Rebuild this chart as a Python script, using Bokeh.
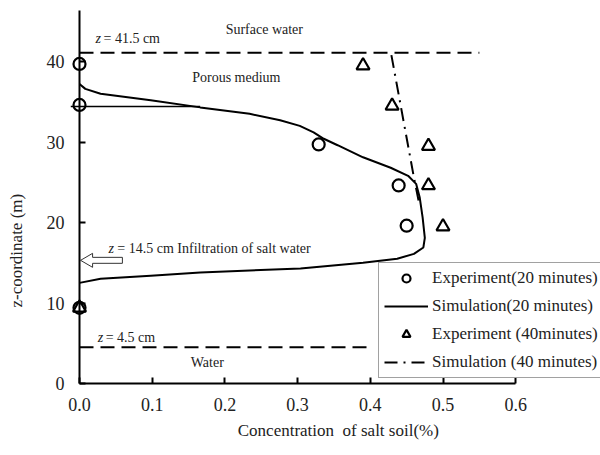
import math
from bokeh.plotting import figure
from bokeh.models import (Range1d, FixedTicker, Legend, LegendItem, Label,
                          NumeralTickFormatter)
from bokeh.embed import file_html
from bokeh.resources import INLINE

# ---------------- data ----------------
exp20_x = [0.0, 0.0, 0.329, 0.439, 0.450, 0.0]
exp20_z = [39.7, 34.6, 29.7, 24.6, 19.6, 9.4]

exp40_x = [0.39, 0.43, 0.48, 0.48, 0.50, 0.0]
exp40_z = [39.5, 34.5, 29.5, 24.6, 19.5, 9.4]

sim20_x = [0.0, 0.008, 0.029, 0.098, 0.166, 0.234, 0.276, 0.303, 0.322, 0.336,
           0.355, 0.39, 0.428, 0.452, 0.463, 0.468, 0.472, 0.475, 0.473, 0.46,
           0.437, 0.39, 0.304, 0.166, 0.098, 0.029, 0.0]
sim20_z = [37.2, 36.6, 36.0, 35.2, 34.3, 33.5, 32.7, 32.0, 31.2, 30.4,
           29.6, 28.1, 26.8, 25.8, 24.8, 23.1, 20.6, 18.1, 16.9, 16.1,
           15.5, 15.0, 14.3, 13.8, 13.4, 13.0, 12.5]

sim40_x = [0.429, 0.46, 0.468]
sim40_z = [40.8, 25.6, 22.0]

marker_line_x = [-0.012, 0.166]
marker_line_z = [34.4, 34.4]

surface_z = 41.1
surface_x = [0.0, 0.55]
water_z = 4.5
water_x = [0.0, 0.397]

x_ticks = [0.0, 0.1, 0.2, 0.3, 0.4, 0.5, 0.6]
y_ticks = [0, 10, 20, 30, 40]

FONT = "Liberation Serif"
TXT = "#222222"

W, H = 600, 455
PX_X = 727.0   # pixels per unit of concentration
PX_Z = 8.05    # pixels per unit of z
X0_PX, Z0_PX = 79.0, 383.0

p = figure(width=W, height=H, output_backend="svg", toolbar_location=None,
           x_range=Range1d(-X0_PX / PX_X, (W - X0_PX) / PX_X),
           y_range=Range1d((Z0_PX - H) / PX_Z, Z0_PX / PX_Z),
           min_border=0)
p.outline_line_color = None
p.xgrid.visible = False
p.ygrid.visible = False
p.background_fill_color = "white"
p.border_fill_color = "white"

for ax in (p.xaxis[0], p.yaxis[0]):
    ax.axis_line_width = 2
    ax.axis_line_color = "black"
    ax.major_tick_line_width = 2
    ax.major_tick_line_color = "black"
    ax.major_tick_in = 6
    ax.major_tick_out = 0
    ax.minor_tick_line_color = None
    ax.major_label_text_font = FONT
    ax.major_label_text_font_size = "18px"
    ax.major_label_text_color = TXT
    ax.fixed_location = 0

p.xaxis[0].ticker = FixedTicker(ticks=x_ticks)
p.xaxis[0].formatter = NumeralTickFormatter(format="0.0")
p.xaxis[0].bounds = (0, 0.6)
p.xaxis[0].major_label_standoff = 14
p.yaxis[0].ticker = FixedTicker(ticks=y_ticks)
p.yaxis[0].bounds = (0, 46.3)
p.yaxis[0].major_label_standoff = 15

# boundary dashed lines
p.line(surface_x, [surface_z, surface_z], line_color="black", line_width=2, line_dash="14 7")
p.line(water_x, [water_z, water_z], line_color="black", line_width=2, line_dash="14 7")

# curves
r_sim20 = p.line(sim20_x, sim20_z, line_color="black", line_width=2)
p.line(marker_line_x, marker_line_z, line_color="black", line_width=1.5)
r_sim40 = p.line(sim40_x, sim40_z, line_color="black", line_width=2, line_dash="13 6 2 6")

# markers
r_exp20 = p.scatter(exp20_x, exp20_z, marker="circle", size=12, line_color="black",
                    line_width=2.2, fill_alpha=0)
r_exp40 = p.scatter(exp40_x, exp40_z, marker="triangle", size=13, line_color="black",
                    line_width=2.2, fill_alpha=0)

# hollow arrow (infiltration)
az = 15.3
ax0, axh, ax1 = 0.0015, 0.018, 0.059
hh, sh = 0.87, 0.37
p.patch([ax0, axh, axh, ax1, ax1, axh, axh],
        [az, az + hh, az + sh, az + sh, az - sh, az - sh, az - hh],
        fill_color="white", line_color="#333333", line_width=1)

def add_text(x, y, text, size="14px", style="normal", align="left", angle=0.0):
    lab = Label(x=x, y=y, text=text,
                text_font=FONT, text_font_size=size, text_font_style=style,
                text_color=TXT, text_align=align, text_baseline="middle", angle=angle)
    p.add_layout(lab)

add_text(0.022, 42.9, "z", style="italic")
add_text(0.033, 42.9, "= 41.5 cm")
add_text(0.201, 44.0, "Surface water")
add_text(0.155, 38.0, "Porous medium")
add_text(0.040, 16.8, "z", style="italic")
add_text(0.052, 16.8, "= 14.5 cm Infiltration of salt water")
add_text(0.025, 5.7, "z", style="italic")
add_text(0.036, 5.7, "= 4.5 cm")
add_text(0.153, 2.6, "Water")

# axis titles
add_text(0.356, -5.84, "Concentration\u00a0 of salt soil(%)", size="17px", align="center")
add_text(-0.0867, 16.5, "z-coordinate (m)", size="17px", align="center", angle=math.pi / 2)

legend = Legend(items=[
    LegendItem(label="Experiment(20 minutes)", renderers=[r_exp20]),
    LegendItem(label="Simulation(20 minutes)", renderers=[r_sim20]),
    LegendItem(label="Experiment (40minutes)", renderers=[r_exp40]),
    LegendItem(label="Simulation (40 minutes)", renderers=[r_sim40]),
], location=(378, 77))
legend.label_text_font = FONT
legend.label_text_font_size = "17px"
legend.label_text_color = TXT
legend.glyph_width = 44
legend.glyph_height = 20
legend.label_height = 20
legend.label_standoff = 4
legend.spacing = 8
legend.padding = 5
legend.margin = 0
legend.border_line_color = "#444444"
legend.border_line_width = 1
legend.background_fill_color = "white"
legend.background_fill_alpha = 1
p.add_layout(legend)

open("out.html", "w").write(file_html(p, INLINE))
